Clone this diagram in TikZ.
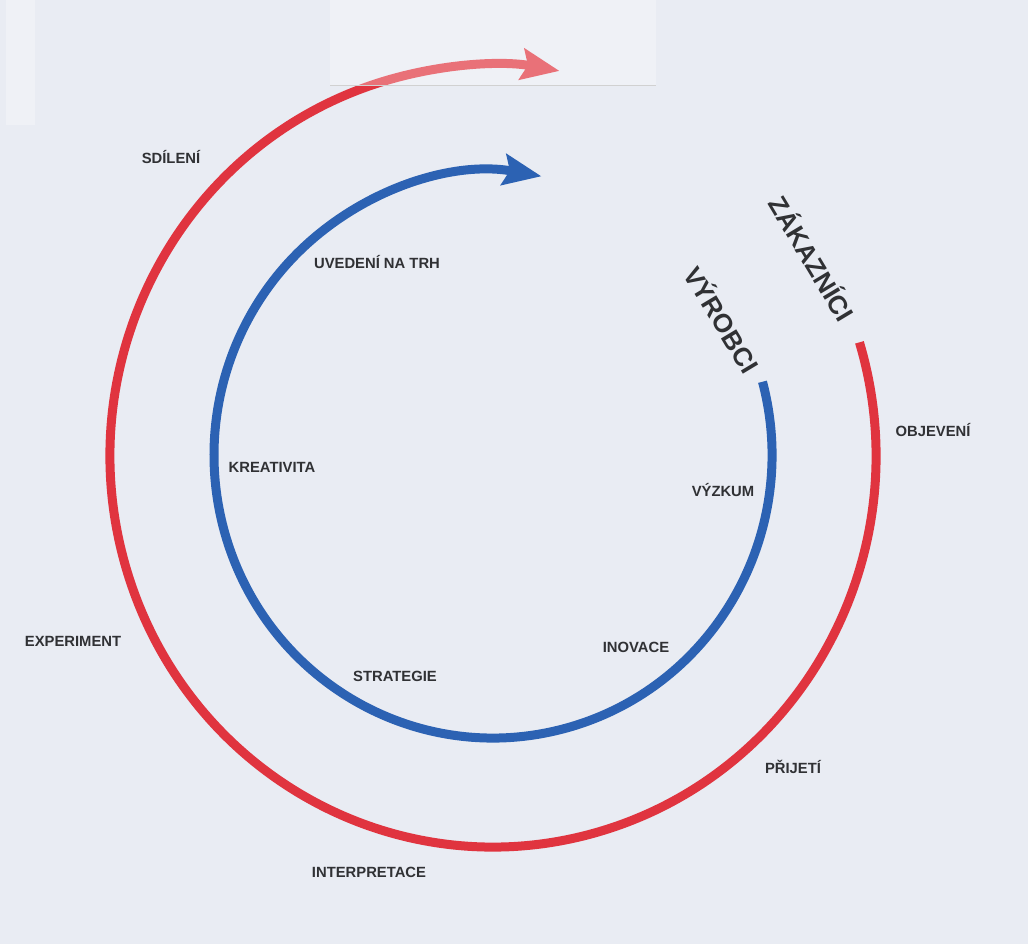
\documentclass[tikz,border=0pt]{standalone}
\usepackage{fontspec}
\setmainfont{Liberation Sans}
\usetikzlibrary{arrows.meta}
\definecolor{paper}{HTML}{E9ECF3}
\definecolor{ink}{HTML}{303134}
\definecolor{custred}{HTML}{E0343F}
\definecolor{prodblue}{HTML}{2C62B3}

\begin{document}
\begin{tikzpicture}[
        x=1pt, y=-1pt,
        word/.style={font=\bfseries\fontsize{14.8}{16}\selectfont, text=ink, inner sep=0pt},
        side/.style={font=\bfseries\fontsize{26}{30}\selectfont, text=ink, inner sep=0pt, rotate=-59},
        spiral/.style={line width=9pt, -{Stealth[length=38pt, width=31pt, inset=6pt]}}
    ]
    \fill[paper] (0,0) rectangle (1028,944);
    \useasboundingbox (0,0) rectangle (1028,944);

    % centres of the two loops
    \coordinate (rc) at (493,456);
    \coordinate (bc) at (493,455);

    \draw[spiral, custred] ([shift={(-16.9:383 and 391)}]rc)
        arc[start angle=-16.9, end angle=280, x radius=383, y radius=391];
    \draw[spiral, prodblue] ([shift={(-15:279 and 283)}]bc)
        arc[start angle=-15, end angle=280, x radius=279, y radius=283];

    % lighter pasted patches of the scan
    \fill[white, opacity=0.3] (330,0) rectangle (656,85);
    \draw[black!18, line width=0.6pt] (330,85) -- (656,85);
    \fill[white, opacity=0.3] (6,0) rectangle (35,125);

    \node[side] (customers) at (813,258) {ZÁKAZNÍCI};
    \node[side] (producers) at (723,319) {VÝROBCI};

    \node[word] (sharing) at (171,157) {SDÍLENÍ};
    \node[word] (launch) at (377,262) {UVEDENÍ NA TRH};
    \node[word] (creativity) at (272,467) {KREATIVITA};
    \node[word] (research) at (723,490) {VÝZKUM};
    \node[word] (discovery) at (933,430) {OBJEVENÍ};
    \node[word] (experiment) at (73,641) {EXPERIMENT};
    \node[word] (innovation) at (636,647) {INOVACE};
    \node[word] (strategy) at (395,676) {STRATEGIE};
    \node[word] (adoption) at (793,767) {PŘIJETÍ};
    \node[word] (interpretation) at (369,872) {INTERPRETACE};
\end{tikzpicture}
\end{document}
